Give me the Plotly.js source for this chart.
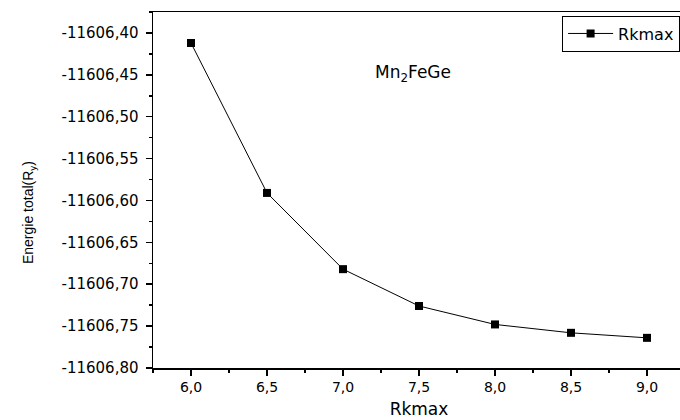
<!DOCTYPE html>
<html>
<head>
<meta charset="utf-8">
<script src="https://cdn.plot.ly/plotly-3.0.1.min.js"></script>
<style>html,body{margin:0;padding:0;overflow:hidden;background:#fff;}</style>
</head>
<body>
<div id="chart" style="width:690px;height:420px;"></div>
<script>
var rkmax = [6.0, 6.5, 7.0, 7.5, 8.0, 8.5, 9.0];
var energy = [-11606.412, -11606.591, -11606.682, -11606.726, -11606.748, -11606.758, -11606.764];
var seriesName = 'Rkmax';
var xTitle = 'Rkmax';
var yTitle = 'Energie total(R<sub>y</sub>)';
var compound = 'Mn<sub>2</sub>FeGe';
var xTickVals = [6.0, 6.5, 7.0, 7.5, 8.0, 8.5, 9.0];
var xTickLabels = ['6,0', '6,5', '7,0', '7,5', '8,0', '8,5', '9,0'];
var yTickVals = [-11606.40, -11606.45, -11606.50, -11606.55, -11606.60, -11606.65, -11606.70, -11606.75, -11606.80];
var yTickLabels = ['-11606,40', '-11606,45', '-11606,50', '-11606,55', '-11606,60', '-11606,65', '-11606,70', '-11606,75', '-11606,80'];

var trace = {
  x: rkmax, y: energy, name: seriesName, type: 'scatter', mode: 'lines+markers',
  line: {color: '#000', width: 1},
  marker: {symbol: 'square', size: 8, color: '#000'}
};

var layout = {
  width: 690, height: 420,
  margin: {l: 153, r: 5, t: 12, b: 52},
  paper_bgcolor: '#fff', plot_bgcolor: '#fff',
  showlegend: true,
  font: {family: 'DejaVu Sans', color: '#000'},
  xaxis: {
    range: [5.75, 9.25], tickmode: 'array', tickvals: xTickVals, ticktext: xTickLabels,
    ticks: 'outside', ticklen: 6, tickwidth: 1.5, tickcolor: '#000',
    minor: {ticks: 'outside', ticklen: 3, dtick: 0.25, tick0: 6, tickcolor: '#000', tickwidth: 1.5},
    showline: true, linecolor: '#000', linewidth: 1.5, mirror: true,
    showgrid: false, zeroline: false,
    tickfont: {family: 'DejaVu Sans', size: 14, color: '#000'},
    title: {text: xTitle, font: {family: 'DejaVu Sans', size: 17, color: '#000'}, standoff: 9}
  },
  yaxis: {
    range: [-11606.80, -11606.375], tickmode: 'array', tickvals: yTickVals, ticktext: yTickLabels,
    ticks: 'outside', ticklen: 6, tickwidth: 1.5, tickcolor: '#000',
    minor: {ticks: 'outside', ticklen: 3, dtick: 0.025, tick0: -11606.80, tickcolor: '#000', tickwidth: 1.5},
    showline: true, linecolor: '#000', linewidth: 1.5, mirror: true,
    showgrid: false, zeroline: false, ticklabelstandoff: 4,
    tickfont: {family: 'DejaVu Sans', size: 15, color: '#000'}
  },
  legend: {
    x: 0.769, y: 0.99, xanchor: 'left', yanchor: 'top',
    bgcolor: '#fff', bordercolor: '#000', borderwidth: 1, itemwidth: 45,
    font: {family: 'DejaVu Sans', size: 16, color: '#000'}
  },
  annotations: [
    {text: compound, xref: 'x', yref: 'y', x: 7.46, y: -11606.448, showarrow: false,
     font: {family: 'DejaVu Sans', size: 17, color: '#000'}},
    {text: yTitle, xref: 'paper', yref: 'paper', x: -0.2538, y: 0.438, showarrow: false,
     textangle: -90, font: {family: 'Liberation Sans', size: 14, color: '#000'}}
  ]
};

Plotly.newPlot('chart', [trace], layout, {displayModeBar: false, staticPlot: true});
</script>
</body>
</html>
